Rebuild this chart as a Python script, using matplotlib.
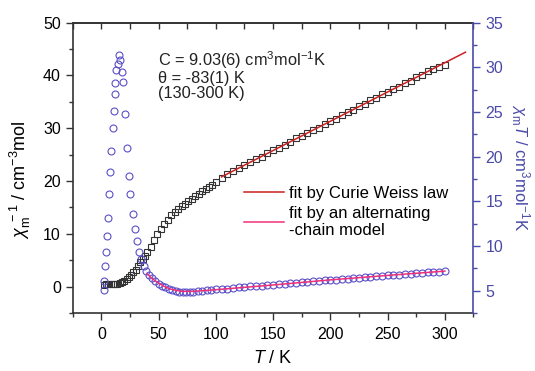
import matplotlib.pyplot as plt
from matplotlib.ticker import MultipleLocator

plt.rcParams['font.family'] = ['Liberation Sans', 'DejaVu Sans']
plt.rcParams['mathtext.fontset'] = 'custom'
plt.rcParams['mathtext.rm'] = 'Liberation Sans'
plt.rcParams['mathtext.it'] = 'Liberation Sans:italic'

# chi_m^-1 (left axis), open squares
T_inv = [2, 4, 6, 8, 10, 12, 14, 16, 18, 20, 22, 24, 26, 28, 30, 32, 34, 36, 38, 40,
         43, 46, 49, 52, 55, 58, 61, 64, 67, 70, 73, 76, 79, 82, 85, 88, 91, 94, 97, 100,
         105, 110, 115, 120, 125, 130, 135, 140, 145, 150, 155, 160, 165, 170, 175, 180,
         185, 190, 195, 200, 205, 210, 215, 220, 225, 230, 235, 240, 245, 250, 255, 260,
         265, 270, 275, 280, 285, 290, 295, 300]
chi_inv = [0.4, 0.5, 0.5, 0.5, 0.5, 0.55, 0.6, 0.7, 0.9, 1.1, 1.4, 1.8, 2.3, 2.8, 3.2, 3.9, 4.6, 5.3, 5.9, 6.6,
           7.6, 8.8, 10.0, 11.0, 11.9, 12.7, 13.5, 14.1, 14.7, 15.2, 15.7, 16.2, 16.7, 17.2, 17.6, 18.1, 18.5, 18.9, 19.3, 19.8,
           20.6, 21.3, 21.9, 22.4, 23.0, 23.6, 24.1, 24.6, 25.3, 25.8, 26.3, 26.9, 27.4, 28.1, 28.5, 29.1,
           29.7, 30.1, 30.8, 31.3, 31.8, 32.5, 33.0, 33.5, 34.2, 34.6, 35.3, 35.7, 36.4, 36.8, 37.5, 37.9,
           38.6, 39.0, 39.7, 40.1, 40.8, 41.2, 41.6, 42.0]

# Curie-Weiss fit line (left axis)
T_cw = [105, 318]
chi_inv_cw = [20.8, 44.4]

# chi_m T (right axis), open circles
T_chiT = [2, 2.6, 3.5, 4.0, 4.9, 5.8, 6.7, 7.5, 8.4, 9.9, 11.0, 11.6, 12.2, 13.1, 14.5, 15.7,
          16.6, 18.0, 18.9, 21, 22.4, 23.9, 25.4, 27.4, 29.1, 31.1, 32.6, 35, 37, 39, 41.5,
          44, 47, 50, 53, 56, 59, 62, 65, 68, 71, 74, 77, 80, 84, 88, 92, 96, 100,
          105, 110, 115, 120, 125, 130, 135, 140, 145, 150, 155, 160, 165, 170, 175, 180,
          185, 190, 195, 200, 205, 210, 215, 220, 225, 230, 235, 240, 245, 250, 255, 260,
          265, 270, 275, 280, 285, 290, 295, 300]
chiT = [5.10, 6.10, 7.81, 9.35, 11.12, 13.13, 15.79, 18.27, 20.64, 23.18, 25.13, 26.96, 28.26, 29.74, 30.39, 31.39,
        30.86, 29.44, 28.32, 24.77, 20.99, 17.80, 15.79, 13.61, 11.89, 10.59, 9.29, 8.52, 7.81, 7.22, 6.75,
        6.40, 6.05, 5.80, 5.58, 5.40, 5.22, 5.08, 4.98, 4.90, 4.86, 4.85, 4.87, 4.90, 4.95, 5.00, 5.05, 5.10, 5.15,
        5.20, 5.25, 5.32, 5.37, 5.43, 5.48, 5.52, 5.58, 5.62, 5.68, 5.73, 5.80, 5.84, 5.90, 5.95, 6.00,
        6.06, 6.10, 6.17, 6.22, 6.26, 6.32, 6.36, 6.42, 6.47, 6.50, 6.56, 6.60, 6.66, 6.72, 6.76, 6.82,
        6.86, 6.92, 6.95, 7.02, 7.05, 7.12, 7.15, 7.22]

# alternating-chain fit (right axis)
T_ac = [40, 45, 50, 55, 60, 70, 80, 100, 150, 200, 250, 300]
chiT_ac = [6.9, 6.3, 5.85, 5.48, 5.2, 4.93, 4.93, 5.12, 5.65, 6.22, 6.72, 7.2]

fig = plt.figure(figsize=(5.35, 3.71), dpi=100)
ax = fig.add_axes([0.136, 0.156, 0.749, 0.783])
ax2 = ax.twinx()

ax.plot(T_inv, chi_inv, 's', ms=4.5, mfc='none', mec='#333333', mew=0.8, zorder=3)
l1, = ax.plot(T_cw, chi_inv_cw, '-', color='#cc2020', lw=1.1, zorder=4)

ax2.plot(T_chiT, chiT, 'o', ms=5, mfc='none', mec='#5a4fc8', mew=0.8, zorder=3)
l2, = ax2.plot(T_ac, chiT_ac, '-', color='#f0307a', lw=1.1, zorder=4)

ax.set_xlim(-25, 325)
ax.set_ylim(-5, 50)
ax2.set_ylim(2.5, 35)

ax.xaxis.set_major_locator(MultipleLocator(50))
ax.xaxis.set_minor_locator(MultipleLocator(25))
ax.yaxis.set_major_locator(MultipleLocator(10))
ax.yaxis.set_minor_locator(MultipleLocator(5))
ax2.yaxis.set_major_locator(MultipleLocator(5))
ax2.yaxis.set_minor_locator(MultipleLocator(2.5))

dark = '#333333'
ax.tick_params(axis='both', which='both', direction='out', labelsize=11.5, color=dark)
ax.tick_params(axis='both', which='major', length=5, width=1)
ax.tick_params(axis='both', which='minor', length=3, width=1)
ax.tick_params(axis='x', which='major', pad=5)

# top axis: inward ticks, no labels
top = ax.secondary_xaxis('top')
top.xaxis.set_major_locator(MultipleLocator(25))
top.tick_params(axis='x', direction='in', length=4, width=1, color=dark, labeltop=False)
top.spines['top'].set_color(dark)
top.spines['top'].set_linewidth(1.2)

for s in ['left', 'bottom', 'top']:
    ax.spines[s].set_color(dark)
    ax.spines[s].set_linewidth(1.2)
ax.spines['right'].set_visible(False)
for s in ['left', 'bottom', 'top']:
    ax2.spines[s].set_visible(False)
blue = '#4a4aa8'
ax2.spines['right'].set_color(blue)
ax2.spines['right'].set_linewidth(1.2)
ax2.tick_params(axis='y', which='both', direction='out', colors=blue, labelsize=11.5)
ax2.tick_params(axis='y', which='major', length=5, width=1)
ax2.tick_params(axis='y', which='minor', length=3, width=1)

ax.set_xlabel('$T$ / K', fontsize=13, labelpad=6)
ax.set_ylabel('$\\chi_\\mathrm{m}^{\\ -1}$ / cm$^{-3}$mol', fontsize=13, labelpad=1)
ax.yaxis.set_label_coords(-0.10, 0.46)
ax2.set_ylabel('$\\chi_\\mathrm{m}T$ / cm$^3$mol$^{-1}$K', fontsize=12, color=blue,
               rotation=270, va='bottom', labelpad=4)

ax.text(0.213, 0.82, 'C = 9.03(6) cm$^3$mol$^{-1}$K\n\u03b8 = -83(1) K\n(130-300 K)',
        transform=ax.transAxes, fontsize=11.8, va='center', ha='left', linespacing=1.0,
        color='#222222')

ax.legend([l1, l2], ['fit by Curie Weiss law', 'fit by an alternating\n-chain model'],
          loc='upper left', bbox_to_anchor=(0.41, 0.462), frameon=False, fontsize=12,
          handlelength=2.4, handletextpad=0.3, labelspacing=0.3, borderaxespad=0)

fig.savefig('out.png', dpi=100)
